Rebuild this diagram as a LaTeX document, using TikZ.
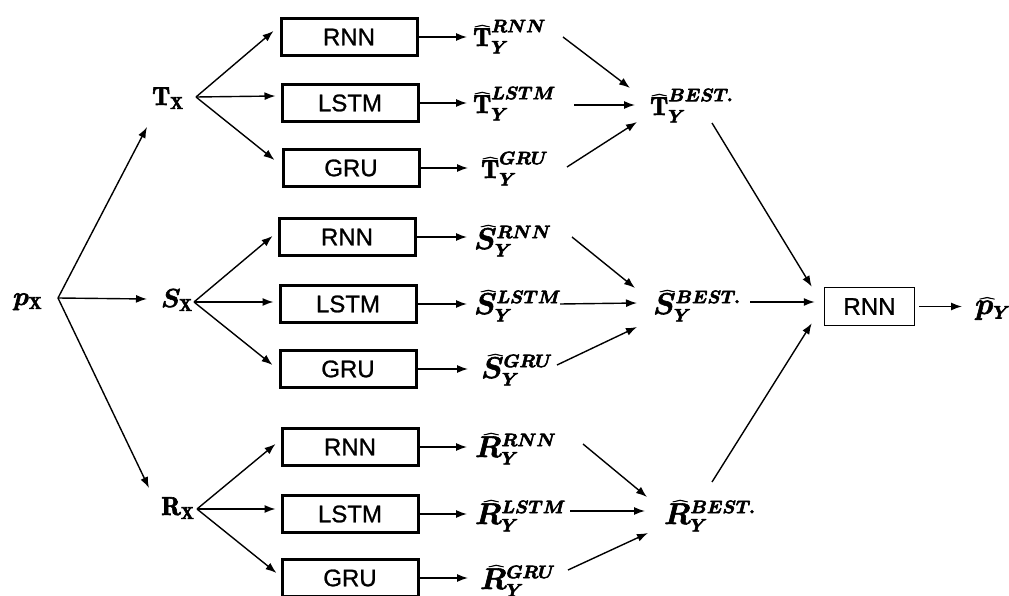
\RequirePackage{fix-cm}
\documentclass[tikz,border=0pt]{standalone}
\usepackage{fontspec}
\setsansfont{Liberation Sans}
\usepackage{bm}
\usetikzlibrary{arrows.meta,calc}
\DeclareMathSizes{30}{30}{18}{13}
\DeclareMathSizes{26}{26}{17}{13}
\newcommand\Tb{\hbox{\fontsize{26}{28}\selectfont$\mathbf{T}$}}
\tikzset{
  heavy/.style={execute at begin node={\special{pdf:literal direct 2 Tr #1 w}},
                execute at end node={\special{pdf:literal direct 0 Tr}}}}
\begin{document}
\begin{tikzpicture}[x=1pt,y=-1pt,
  arr/.style={-{Latex[length=11pt,width=8pt]}, line width=1.4pt},
  nnbox/.style={draw, line width=3pt, minimum width=136pt, minimum height=37pt, inner sep=0pt, heavy=0.25, font=\sffamily\fontsize{24}{28}\selectfont},
  outbox/.style={draw, line width=1.5pt, minimum width=90pt, minimum height=38pt, inner sep=0pt, heavy=0.25, font=\sffamily\fontsize{24}{28}\selectfont},
  lab/.style={inner sep=0pt, anchor=base west, heavy=0.6, font=\fontsize{30}{34}\selectfont},
  inlab/.style={inner sep=0pt, anchor=base west, heavy=0.6, font=\fontsize{26}{30}\selectfont}]
\useasboundingbox (0,0) rectangle (1009,596);
% inputs
\node[inlab] (pX) at (13,305) {$\bm{p}_{\mathbf{X}}$};
\node[inlab] (Tx) at (152,105) {$\mathbf{T}_{\mathbf{X}}$};
\node[inlab] (Sx) at (161,307) {$\bm{S}_{\mathbf{X}}$};
\node[inlab] (Rx) at (161,515) {$\mathbf{R}_{\mathbf{X}}$};
% boxes
\node[nnbox] (tr) at (349,37) {RNN};
\node[nnbox] (tl) at (350,103) {LSTM};
\node[nnbox] (tg) at (351,168) {GRU};
\node[nnbox] (sr) at (347,237) {RNN};
\node[nnbox] (sl) at (348,304) {LSTM};
\node[nnbox] (sg) at (348,369) {GRU};
\node[nnbox] (rr) at (350,447) {RNN};
\node[nnbox] (rl) at (350,514) {LSTM};
\node[nnbox] (rg) at (350,578) {GRU};
% predictions
\node[lab] (ltr) at (473,46) {$\widehat{\Tb}_{\bm{Y}}^{\bm{RNN}}$};
\node[lab] (ltl) at (473,113) {$\widehat{\Tb}_{\bm{Y}}^{\bm{LSTM}}$};
\node[lab] (ltg) at (481,178) {$\widehat{\Tb}_{\bm{Y}}^{\bm{GRU}}$};
\node[lab] (lsr) at (474,249) {$\widehat{\bm{S}}_{\bm{Y}}^{\bm{RNN}}$};
\node[lab] (lsl) at (474,314) {$\widehat{\bm{S}}_{\bm{Y}}^{\bm{LSTM}}$};
\node[lab] (lsg) at (481,378) {$\widehat{\bm{S}}_{\bm{Y}}^{\bm{GRU}}$};
\node[lab] (lrr) at (475,457) {$\widehat{\bm{R}}_{\bm{Y}}^{\bm{RNN}}$};
\node[lab] (lrl) at (475,524) {$\widehat{\bm{R}}_{\bm{Y}}^{\bm{LSTM}}$};
\node[lab] (lrg) at (480,589) {$\widehat{\bm{R}}_{\bm{Y}}^{\bm{GRU}}$};
% best
\node[lab] (tb) at (650,115) {$\widehat{\Tb}_{\bm{Y}}^{\bm{BEST.}}$};
\node[lab] (sb) at (653,314) {$\widehat{\bm{S}}_{\bm{Y}}^{\bm{BEST.}}$};
\node[lab] (rb) at (664,524) {$\widehat{\bm{R}}_{\bm{Y}}^{\bm{BEST.}}$};
% final
\node[outbox] (out) at (869.5,306.5) {RNN};
\node[lab] (py) at (975,314) {$\widehat{\bm{p}}_{\bm{Y}}$};
% p_X fan
\draw[arr] ($(pX.base west)+(45,-7)$) -- ($(Tx.base west)+(-5,22)$);
\draw[arr] ($(pX.base west)+(45,-7)$) -- ($(Sx.base west)+(-14,-8)$);
\draw[arr] ($(pX.base west)+(45,-7)$) -- ($(Rx.base west)+(-12,-27)$);
% T fan
\draw[arr] ($(Tx.base west)+(44,-8)$) -- ($(tr.west)+(-6,-6)$);
\draw[arr] ($(Tx.base west)+(44,-8)$) -- ($(tl.west)+(-5,-7)$);
\draw[arr] ($(Tx.base west)+(44,-8)$) -- ($(tg.west)+(-7,-8)$);
% S fan
\draw[arr] ($(Sx.base west)+(33,-5)$) -- ($(sr.west)+(-5,-1)$);
\draw[arr] ($(Sx.base west)+(33,-5)$) -- ($(sl.west)+(-5,-2)$);
\draw[arr] ($(Sx.base west)+(33,-5)$) -- ($(sg.west)+(-6,-4)$);
% R fan
\draw[arr] ($(Rx.base west)+(36,-6)$) -- ($(rr.west)+(-5,-3)$);
\draw[arr] ($(Rx.base west)+(36,-6)$) -- ($(rl.west)+(-5,-5)$);
\draw[arr] ($(Rx.base west)+(36,-6)$) -- ($(rg.west)+(-4,-5)$);
% box -> prediction
\draw[arr, shorten >=6pt] (tr.east) -- (tr.east -| ltr.west);
\draw[arr, shorten >=6pt] (tl.east) -- (tl.east -| ltl.west);
\draw[arr, shorten >=13pt] (tg.east) -- (tg.east -| ltg.west);
\draw[arr, shorten >=7pt] (sr.east) -- (sr.east -| lsr.west);
\draw[arr, shorten >=7pt] (sl.east) -- (sl.east -| lsl.west);
\draw[arr, shorten >=13pt] (sg.east) -- (sg.east -| lsg.west);
\draw[arr, shorten >=8pt] (rr.east) -- (rr.east -| lrr.west);
\draw[arr, shorten >=8pt] (rl.east) -- (rl.east -| lrl.west);
\draw[arr, shorten >=12pt] (rg.east) -- (rg.east -| lrg.west);
% prediction -> best
\draw[arr] ($(ltr.base west)+(90,-9)$) -- ($(tb.base west)+(-20,-27)$);
\draw[arr] ($(ltl.base west)+(101,-8)$) -- ($(tb.base west)+(-15,-10)$);
\draw[arr] ($(ltg.base west)+(86,-11)$) -- ($(tb.base west)+(-13,7)$);
\draw[arr] ($(lsr.base west)+(98,-12)$) -- ($(sb.base west)+(-18,-26)$);
\draw[arr] ($(lsl.base west)+(86,-10)$) -- ($(sb.base west)+(-16,-11)$);
\draw[arr] ($(lsg.base west)+(76,-13)$) -- ($(sb.base west)+(-16,13)$);
\draw[arr] ($(lrr.base west)+(108,-13)$) -- ($(rb.base west)+(-17,-27)$);
\draw[arr] ($(lrl.base west)+(95,-13)$) -- ($(rb.base west)+(-19,-13)$);
\draw[arr] ($(lrg.base west)+(88,-19)$) -- ($(rb.base west)+(-16,9)$);
% best -> final
\draw[arr] ($(tb.base west)+(62,8)$) -- ($(out.north west)+(-12,0)$);
\draw[arr] ($(sb.base west)+(97,-12)$) -- ($(out.west)+(-9,-4.5)$);
\draw[arr] ($(rb.base west)+(48,-42)$) -- ($(out.south west)+(-12,-3)$);
\draw[arr, shorten <=4pt, shorten >=13pt] (out.east) -- (out.east -| py.west);
\end{tikzpicture}
\end{document}
